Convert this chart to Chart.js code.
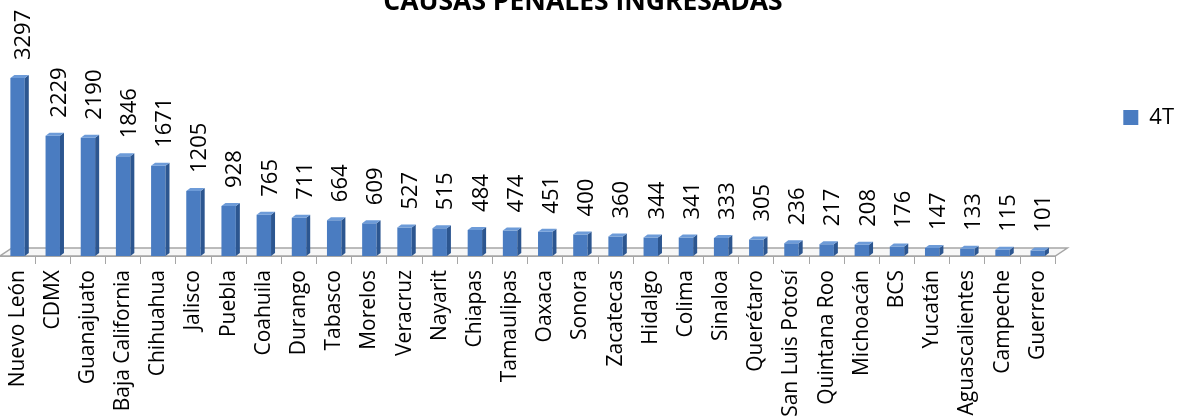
<!DOCTYPE html>
<html>
<head>
<meta charset="utf-8">
<script src="https://cdn.jsdelivr.net/npm/chart.js@4.4.0/dist/chart.umd.min.js"></script>
<style>
  body { margin: 0; background: #fff; }
  #wrap { width: 1180px; height: 420px; position: relative; }
</style>
</head>
<body>
<div id="wrap"><canvas id="chart"></canvas></div>
<script>
const estados = ['Nuevo León', 'CDMX', 'Guanajuato', 'Baja California', 'Chihuahua', 'Jalisco', 'Puebla',
    'Coahuila', 'Durango', 'Tabasco', 'Morelos', 'Veracruz', 'Nayarit', 'Chiapas', 'Tamaulipas', 'Oaxaca',
    'Sonora', 'Zacatecas', 'Hidalgo', 'Colima', 'Sinaloa', 'Querétaro', 'San Luis Potosí', 'Quintana Roo',
    'Michoacán', 'BCS', 'Yucatán', 'Aguascalientes', 'Campeche', 'Guerrero'];
const causas4T = [3297, 2229, 2190, 1846, 1671, 1205, 928, 765, 711, 664, 609, 527, 515, 484, 474, 451,
    400, 360, 344, 341, 333, 305, 236, 217, 208, 176, 147, 133, 115, 101];
const serieNombre = '4T';
const titulo = 'CAUSAS PENALES INGRESADAS';

const fuente = "'Open Sans', 'Liberation Sans', sans-serif";

// piso gris en perspectiva bajo las barras
const piso = {
    id: 'piso',
    beforeDatasetsDraw(chart) {
        const {ctx, chartArea: a} = chart;
        ctx.save();
        ctx.fillStyle = '#f7f7f7';
        ctx.strokeStyle = '#a6a6a6';
        ctx.lineWidth = 1.5;
        ctx.beginPath();
        ctx.moveTo(a.left, a.bottom);
        ctx.lineTo(a.right, a.bottom);
        ctx.lineTo(a.right + 12, a.bottom - 8);
        ctx.lineTo(a.left + 12, a.bottom - 8);
        ctx.closePath();
        ctx.fill();
        ctx.stroke();
        ctx.restore();
    }
};

// caras lateral y superior para simular las barras 3D
const barras3d = {
    id: 'barras3d',
    afterDatasetsDraw(chart) {
        const {ctx} = chart;
        const dx = 4, dy = 3;
        chart.getDatasetMeta(0).data.forEach(bar => {
            const l = bar.x - bar.width / 2, r = bar.x + bar.width / 2;
            ctx.save();
            ctx.fillStyle = '#2c5690';
            ctx.beginPath();
            ctx.moveTo(r, bar.y);
            ctx.lineTo(r + dx, bar.y - dy);
            ctx.lineTo(r + dx, bar.base - dy);
            ctx.lineTo(r, bar.base);
            ctx.closePath();
            ctx.fill();
            ctx.fillStyle = '#6d9bd8';
            ctx.beginPath();
            ctx.moveTo(l, bar.y);
            ctx.lineTo(l + dx, bar.y - dy);
            ctx.lineTo(r + dx, bar.y - dy);
            ctx.lineTo(r, bar.y);
            ctx.closePath();
            ctx.fill();
            ctx.restore();
        });
    }
};

// valores girados encima de cada barra
const etiquetas = {
    id: 'etiquetas',
    afterDatasetsDraw(chart) {
        const {ctx} = chart;
        const meta = chart.getDatasetMeta(0);
        ctx.save();
        ctx.fillStyle = '#000';
        ctx.font = `22px ${fuente}`;
        ctx.textAlign = 'left';
        ctx.textBaseline = 'middle';
        meta.data.forEach((bar, i) => {
            ctx.save();
            ctx.translate(bar.x + 6.5, bar.y - 18);
            ctx.rotate(-Math.PI / 2);
            ctx.fillText(String(causas4T[i]), 0, 0);
            ctx.restore();
        });
        ctx.restore();
    }
};

new Chart(document.getElementById('chart'), {
    type: 'bar',
    data: {
        labels: estados,
        datasets: [{
            label: serieNombre,
            data: causas4T,
            backgroundColor: '#4a7cc1',
            borderWidth: 0,
            barPercentage: 0.82,
            categoryPercentage: 0.5
        }]
    },
    options: {
        responsive: true,
        maintainAspectRatio: false,
        animation: false,
        layout: { padding: { left: -18, right: -4, top: 0, bottom: 0 } },
        plugins: {
            title: {
                display: true,
                text: titulo,
                color: '#000',
                font: { family: fuente, size: 26.5, weight: 'bold' },
                padding: { top: -13.4, bottom: 20.1 }
            },
            legend: {
                position: 'right',
                align: 'start',
                fullSize: false,
                labels: {
                    color: '#000',
                    font: { family: fuente, size: 22 },
                    boxWidth: 15,
                    boxHeight: 15,
                    padding: 68
                }
            },
            tooltip: { enabled: false }
        },
        scales: {
            x: {
                grid: {
                    drawOnChartArea: false,
                    color: '#a6a6a6',
                    tickLength: 8,
                    offset: true
                },
                border: { color: '#a6a6a6' },
                ticks: {
                    color: '#000',
                    font: { family: fuente, size: 21 },
                    minRotation: 90,
                    maxRotation: 90,
                    autoSkip: false,
                    padding: 6
                },
                afterFit(s) { s.height = 164; }
            },
            y: {
                min: 0,
                max: 4030,
                grid: { display: false },
                border: { display: false },
                ticks: { display: false },
                afterFit(s) { s.width = 17; }
            }
        }
    },
    plugins: [piso, barras3d, etiquetas]
});
</script>
</body>
</html>
